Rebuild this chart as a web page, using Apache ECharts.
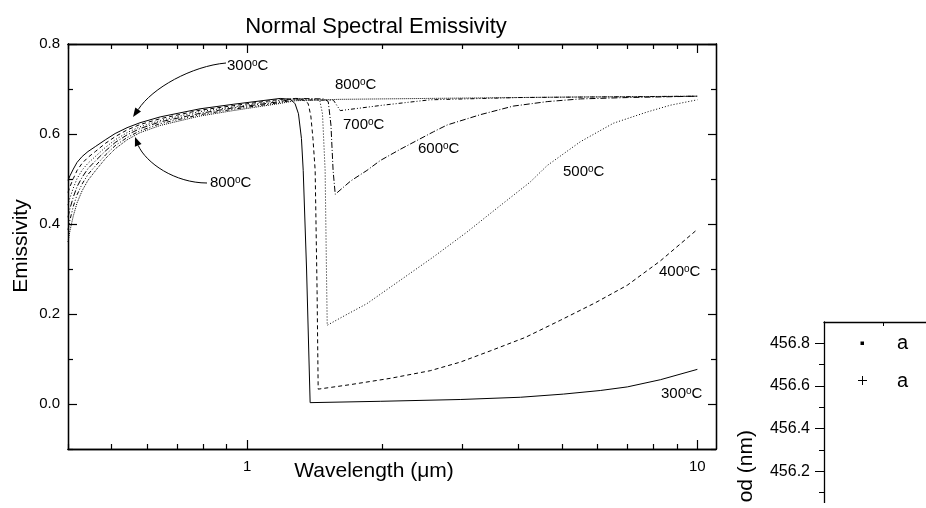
<!DOCTYPE html>
<html>
<head>
<meta charset="utf-8">
<script src="https://cdn.jsdelivr.net/npm/echarts@6/dist/echarts.min.js"></script>
<style>html,body{margin:0;padding:0;background:#fff}#c{width:926px;height:508px}</style>
</head>
<body>
<div id="c"></div>
<script>
// ---- data ----
const riseWl = [0.4, 0.404, 0.411, 0.419, 0.43, 0.443, 0.46, 0.484, 0.509, 0.541, 0.578, 0.641, 0.786, 0.931, 1.184];

const rise300 = [0.497, 0.507, 0.522, 0.537, 0.550, 0.561, 0.572, 0.587, 0.601, 0.614, 0.625, 0.638, 0.656, 0.666, 0.679];
const rise400 = [0.470, 0.483, 0.501, 0.519, 0.535, 0.548, 0.561, 0.579, 0.594, 0.609, 0.621, 0.634, 0.653, 0.663, 0.677];
const rise500 = [0.442, 0.458, 0.480, 0.501, 0.520, 0.535, 0.550, 0.570, 0.587, 0.603, 0.616, 0.630, 0.650, 0.660, 0.675];
const rise600 = [0.415, 0.434, 0.460, 0.483, 0.504, 0.523, 0.540, 0.562, 0.581, 0.598, 0.612, 0.627, 0.646, 0.658, 0.672];
const rise700 = [0.387, 0.409, 0.439, 0.465, 0.489, 0.510, 0.529, 0.553, 0.574, 0.592, 0.607, 0.623, 0.643, 0.655, 0.670];
const rise800 = [0.360, 0.385, 0.418, 0.447, 0.474, 0.497, 0.518, 0.545, 0.567, 0.587, 0.603, 0.619, 0.640, 0.652, 0.668];

const tailWl300 = [1.25, 1.278, 1.30, 1.32, 1.332, 1.355, 1.38, 1.975, 2.973, 4.045, 5.04, 6.086, 6.99, 8.28, 10];
const tailEm300 = [0.677, 0.667, 0.645, 0.59, 0.519, 0.30, 0.003, 0.006, 0.010, 0.015, 0.022, 0.030, 0.038, 0.054, 0.077];

const tailWl400 = [1.28, 1.33, 1.366, 1.385, 1.40, 1.416, 1.43, 1.438, 1.694, 2.078, 2.551, 2.973, 3.467, 4.148, 4.961, 5.935, 6.989, 8.276, 10];
const tailEm400 = [0.678, 0.676, 0.668, 0.64, 0.59, 0.519, 0.25, 0.033, 0.043, 0.057, 0.074, 0.093, 0.118, 0.148, 0.186, 0.225, 0.264, 0.318, 0.388];

const tailWl500 = [1.28, 1.42, 1.45, 1.47, 1.49, 1.50, 1.506, 1.651, 1.845, 2.188, 2.594, 3.077, 3.65, 4.25, 4.64, 5.5, 6.51, 7.74, 8.71, 10];
const tailEm500 = [0.679, 0.677, 0.674, 0.645, 0.519, 0.30, 0.175, 0.197, 0.223, 0.275, 0.327, 0.382, 0.441, 0.493, 0.530, 0.583, 0.624, 0.649, 0.664, 0.676];

const tailWl600 = [1.28, 1.48, 1.514, 1.535, 1.552, 1.569, 1.70, 1.845, 1.975, 2.188, 2.594, 2.78, 3.297, 3.9, 4.64, 5.5, 7.0, 10];
const tailEm600 = [0.679, 0.678, 0.672, 0.62, 0.519, 0.466, 0.496, 0.519, 0.541, 0.566, 0.605, 0.620, 0.643, 0.662, 0.672, 0.678, 0.681, 0.684];

const tailWl700 = [1.28, 1.555, 1.61, 2.0, 2.55, 4.0, 10];
const tailEm700 = [0.676, 0.675, 0.652, 0.664, 0.676, 0.681, 0.684];

const tailWl800 = [1.28, 1.6, 2.5, 5.0, 10];
const tailEm800 = [0.674, 0.677, 0.679, 0.682, 0.684];

const temps = ['300', '400', '500', '600', '700', '800'];

const xMajorTicks = [1, 10];
const xMinorTicks = [0.4, 0.5, 0.6, 0.7, 0.8, 0.9, 2, 3, 4, 5, 6, 7, 8, 9];
const yMajorTicks = [0, 0.2, 0.4, 0.6, 0.8];
const yMinorTicks = [-0.1, 0.1, 0.3, 0.5, 0.7];

const y2MajorTicks = [456.2, 456.4, 456.6, 456.8];
const y2MinorTicks = [456.1, 456.3, 456.5, 456.7];
const x2TopTicks = [1];
const legend2Names = ['a', 'a'];

// ---- build ----
function build(rise, tw, te) {
  const wl = riseWl.concat(tw), em = rise.concat(te);
  return wl.map((w, i) => [w, em[i]]);
}
const seriesData = {
  '300': build(rise300, tailWl300, tailEm300),
  '400': build(rise400, tailWl400, tailEm400),
  '500': build(rise500, tailWl500, tailEm500),
  '600': build(rise600, tailWl600, tailEm600),
  '700': build(rise700, tailWl700, tailEm700),
  '800': build(rise800, tailWl800, tailEm800)
};
const lineTypes = {
  '300': 'solid',
  '400': [4, 3],
  '500': [1, 2],
  '600': [6, 2, 1, 2],
  '700': [4, 2, 1, 2, 1, 2],
  '800': [1, 1]
};

const FONT = "'Liberation Sans', Arial, Helvetica, sans-serif";
const lineCol = '#000';

function logAxis(pos, ticks, len, showLabel) {
  return {
    type: 'log', logBase: 10, gridIndex: 0, position: pos, min: 0.4, max: 11,
    axisLine: { show: true, onZero: false, lineStyle: { color: lineCol, width: 1.3 } },
    axisTick: { show: true, inside: true, length: len, customValues: ticks, lineStyle: { color: lineCol, width: 1.2 } },
    axisLabel: showLabel ? { show: true, customValues: ticks, color: '#000', fontSize: 15, fontFamily: FONT, margin: 10,
      formatter: v => String(Math.round(v)) } : { show: false },
    splitLine: { show: false }, minorTick: { show: false }
  };
}
function valAxis(pos, ticks, len, showLabel) {
  return {
    type: 'value', gridIndex: 0, position: pos, min: -0.1, max: 0.8,
    axisLine: { show: true, onZero: false, lineStyle: { color: lineCol, width: 1.3 } },
    axisTick: { show: true, inside: true, length: len, customValues: ticks, lineStyle: { color: lineCol, width: 1.2 } },
    axisLabel: showLabel ? { show: true, customValues: ticks, color: '#000', fontSize: 15, fontFamily: FONT, margin: 8,
      formatter: v => Number(v).toFixed(1) } : { show: false },
    splitLine: { show: false }
  };
}

function degLabel(t, x, y) {
  return {
    type: 'text', x: x, y: y, z: 10,
    style: {
      text: t + '{s|o}C', font: '15px ' + FONT, fill: '#000', align: 'left', verticalAlign: 'middle',
      rich: { s: { fontSize: 10, fontFamily: FONT, lineHeight: 10, verticalAlign: 'top', fill: '#000' } }
    }
  };
}
function arrow(curve, head) {
  return [
    { type: 'bezierCurve', shape: curve, style: { stroke: '#000', lineWidth: 1, fill: null }, z: 10 },
    { type: 'polygon', shape: { points: head }, style: { fill: '#000' }, z: 10 }
  ];
}

const chart = echarts.init(document.getElementById('c'), null, { renderer: 'canvas' });
chart.setOption({
  animation: false,
  backgroundColor: '#fff',
  textStyle: { fontFamily: FONT },
  title: {
    text: 'Normal Spectral Emissivity', left: 371, top: 10, textAlign: 'center',
    textStyle: { fontSize: 22, fontWeight: 'normal', color: '#000', fontFamily: FONT, lineHeight: 24 }
  },
  grid: [
    { left: 68, top: 44, right: 210, bottom: 59, containLabel: false, outerBoundsMode: 'none' },
    { left: 824, top: 322, right: -134, bottom: -6, containLabel: false, outerBoundsMode: 'none' }
  ],
  xAxis: [
    logAxis('bottom', xMajorTicks, 9, true),
    logAxis('bottom', xMinorTicks, 5, false),
    logAxis('top', xMajorTicks, 9, false),
    logAxis('top', xMinorTicks, 5, false),
    {
      type: 'value', gridIndex: 1, position: 'top', min: 0, max: 4,
      axisLine: { show: true, onZero: false, lineStyle: { color: lineCol, width: 1.3 } },
      axisTick: { show: true, inside: true, length: 4, customValues: x2TopTicks, lineStyle: { color: lineCol } },
      axisLabel: { show: false }, splitLine: { show: false }
    }
  ],
  yAxis: [
    valAxis('left', yMajorTicks, 9, true),
    valAxis('left', yMinorTicks, 5, false),
    valAxis('right', yMajorTicks, 8, false),
    valAxis('right', yMinorTicks, 5, false),
    {
      type: 'value', gridIndex: 1, position: 'left', min: 456.0, max: 456.9,
      axisLine: { show: true, onZero: false, lineStyle: { color: lineCol, width: 1.3 } },
      axisTick: { show: true, inside: false, length: 9, customValues: y2MajorTicks, lineStyle: { color: lineCol } },
      axisLabel: { show: true, customValues: y2MajorTicks, color: '#000', fontSize: 16, fontFamily: FONT, margin: 14,
        formatter: v => Number(v).toFixed(1) },
      splitLine: { show: false }
    },
    {
      type: 'value', gridIndex: 1, position: 'left', min: 456.0, max: 456.9,
      axisLine: { show: false, onZero: false },
      axisTick: { show: true, inside: false, length: 5, customValues: y2MinorTicks, lineStyle: { color: lineCol } },
      axisLabel: { show: false }, splitLine: { show: false }
    }
  ],
  series: temps.map(t => ({
    name: t + '°C', type: 'line', xAxisIndex: 0, yAxisIndex: 0,
    data: seriesData[t], showSymbol: false, symbol: 'none', smooth: false,
    lineStyle: { color: '#000', width: 1, type: lineTypes[t] },
    z: 3
  })),
  graphic: [
    { type: 'text', x: 374, y: 471, style: { text: 'Wavelength (\u03bcm)', font: '21px ' + FONT, fill: '#000', align: 'center', verticalAlign: 'middle' } },
    { type: 'text', x: 21, y: 246, rotation: Math.PI / 2, style: { text: 'Emissivity', font: '21px ' + FONT, fill: '#000', align: 'center', verticalAlign: 'middle' } },
    { type: 'text', x: 746, y: 430, rotation: Math.PI / 2, style: { text: 'Period (nm)', font: '21px ' + FONT, fill: '#000', align: 'right', verticalAlign: 'middle' } },
    degLabel('300', 227, 66),
    degLabel('800', 210, 183),
    degLabel('800', 335, 85),
    degLabel('700', 343, 125),
    degLabel('600', 418, 149),
    degLabel('500', 563, 172),
    degLabel('400', 659, 272),
    degLabel('300', 661, 394),
    ...arrow({ x1: 226, y1: 63, cpx1: 192, cpy1: 66, cpx2: 152, cpy2: 88, x2: 138.2, y2: 109.6 },
             [[133, 117], [141.0, 111.6], [135.3, 107.6]]),
    ...arrow({ x1: 207, y1: 183, cpx1: 175, cpy1: 183, cpx2: 146, cpy2: 163, x2: 138.2, y2: 145.4 },
             [[135, 137], [141.5, 144.1], [134.9, 146.7]]),
    { type: 'rect', shape: { x: 860.5, y: 341.5, width: 3.5, height: 3.5 }, style: { fill: '#000' }, z: 10 },
    { type: 'line', shape: { x1: 858, y1: 380.5, x2: 867, y2: 380.5 }, style: { stroke: '#000', lineWidth: 1 }, z: 10 },
    { type: 'line', shape: { x1: 862.5, y1: 376, x2: 862.5, y2: 385 }, style: { stroke: '#000', lineWidth: 1 }, z: 10 },
    { type: 'text', x: 897, y: 343, style: { text: legend2Names[0], font: '20px ' + FONT, fill: '#000', align: 'left', verticalAlign: 'middle' }, z: 10 },
    { type: 'text', x: 897, y: 381, style: { text: legend2Names[1], font: '20px ' + FONT, fill: '#000', align: 'left', verticalAlign: 'middle' }, z: 10 },
    { type: 'rect', shape: { x: 700, y: 503, width: 226, height: 5 }, style: { fill: '#fff' }, z: 100 }
  ]
});
</script>
</body>
</html>
